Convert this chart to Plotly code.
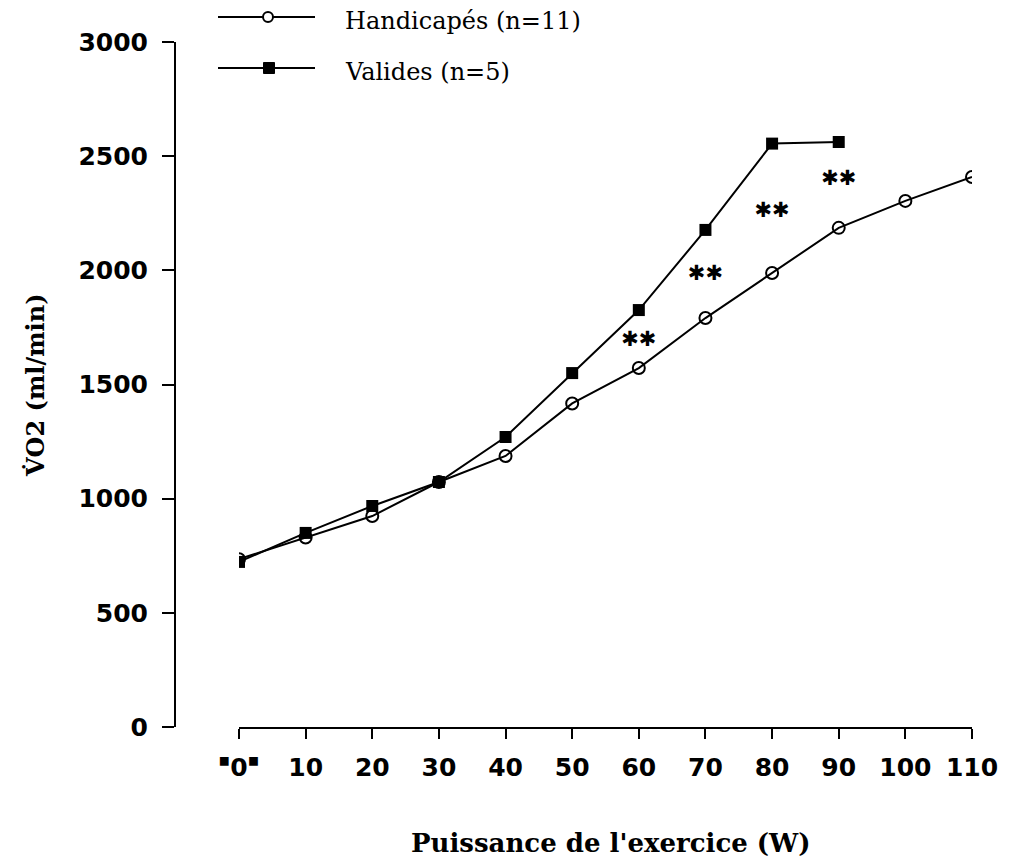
import plotly.graph_objects as go

# Data
puissance = [0, 10, 20, 30, 40, 50, 60, 70, 80, 90, 100, 110]
handicapes = [735, 830, 924, 1073, 1187, 1417, 1572, 1791, 1988, 2186, 2304, 2409]
puissance_valides = [0, 10, 20, 30, 40, 50, 60, 70, 80, 90]
valides = [723, 850, 968, 1073, 1270, 1550, 1826, 2177, 2555, 2562]
star_x = [60, 70, 80, 90]
star_y = [1690, 1980, 2256, 2396]
x_ticks = [0, 10, 20, 30, 40, 50, 60, 70, 80, 90, 100, 110]
x_ticktext = ["<sup>▪</sup>0<sup>▪</sup>"] + [str(v) for v in x_ticks[1:]]
y_ticks = [0, 500, 1000, 1500, 2000, 2500, 3000]

W, H = 1009, 862
OFF = 8  # page body margin offset
ml, mr, mt, mb = 167, 45, 34, 143
pw = W - ml - mr
ph = H - mt - mb


def px_x(p):
    return (p - OFF - ml) / pw


def px_y(p):
    return (H - mb - (p - OFF)) / ph


fig = go.Figure()
fig.add_trace(go.Scatter(
    x=puissance, y=handicapes, mode="lines+markers", name="Handicapés (n=11)",
    line=dict(color="black", width=2),
    marker=dict(symbol="circle-open", size=12, color="black", line=dict(width=2)),
    showlegend=False))
fig.add_trace(go.Scatter(
    x=puissance_valides, y=valides, mode="lines+markers", name="Valides (n=5)",
    line=dict(color="black", width=2),
    marker=dict(symbol="square", size=12, color="black"),
    showlegend=False))
fig.add_trace(go.Scatter(
    x=star_x, y=star_y, mode="text", text=["✱✱"] * len(star_x),
    textfont=dict(family="DejaVu Sans", size=21, color="black", weight="bold"),
    showlegend=False, hoverinfo="skip"))

# custom legend (lines + symbols + text)
legend_rows = [("Handicapés (n=11)", 17, "circle"), ("Valides (n=5)", 68, "square")]
for label, yy, sym in legend_rows:
    fig.add_shape(type="line", xref="paper", yref="paper",
                  x0=px_x(218), x1=px_x(315), y0=px_y(yy), y1=px_y(yy),
                  line=dict(color="black", width=2))
    if sym == "circle":
        fig.add_shape(type="circle", xref="paper", yref="paper",
                      xsizemode="pixel", ysizemode="pixel",
                      xanchor=px_x(268), yanchor=px_y(yy),
                      x0=-5, x1=5, y0=-5, y1=5,
                      line=dict(color="black", width=2), fillcolor="white")
    else:
        fig.add_shape(type="rect", xref="paper", yref="paper",
                      xsizemode="pixel", ysizemode="pixel",
                      xanchor=px_x(269), yanchor=px_y(yy),
                      x0=-5.5, x1=5.5, y0=-5.5, y1=5.5,
                      line=dict(color="black", width=1), fillcolor="black")
    fig.add_annotation(text=label, xref="paper", yref="paper",
                       x=px_x(343), y=px_y(yy + 4), xanchor="left", yanchor="middle",
                       showarrow=False,
                       font=dict(family="DejaVu Serif", size=24, color="black"))

# axis titles
fig.add_annotation(text="Puissance de l'exercice (W)", xref="paper", yref="paper",
                   x=px_x(611), y=px_y(843), xanchor="center", yanchor="middle",
                   showarrow=False,
                   font=dict(family="DejaVu Serif", size=26, color="black", weight="bold"))
fig.add_annotation(text="V̇O2 (ml/min)", xref="paper", yref="paper",
                   x=px_x(35), y=px_y(385), xanchor="center", yanchor="middle",
                   textangle=-90, showarrow=False,
                   font=dict(family="DejaVu Serif", size=24, color="black", weight="bold"))

fig.update_layout(
    width=W, height=H,
    margin=dict(l=ml, r=mr, t=mt, b=mb),
    plot_bgcolor="white", paper_bgcolor="white",
    xaxis=dict(
        domain=[(239 - OFF - ml) / pw, 1], range=[0, 110],
        tickvals=x_ticks, ticktext=x_ticktext,
        showgrid=False, zeroline=False, showline=True, linecolor="black", linewidth=2,
        ticks="outside", ticklen=10, tickwidth=2, tickcolor="black",
        ticklabelstandoff=7,
        tickfont=dict(family="DejaVu Sans", size=25, color="black", weight="bold"),
    ),
    yaxis=dict(
        domain=[0, 1], range=[0, 3000], anchor="free", position=0,
        tickvals=y_ticks,
        showgrid=False, zeroline=False, showline=True, linecolor="black", linewidth=2,
        ticks="outside", ticklen=12, tickwidth=2, tickcolor="black",
        ticklabelstandoff=9,
        tickfont=dict(family="DejaVu Sans", size=25, color="black", weight="bold"),
    ),
)

fig.write_html("out.html")
